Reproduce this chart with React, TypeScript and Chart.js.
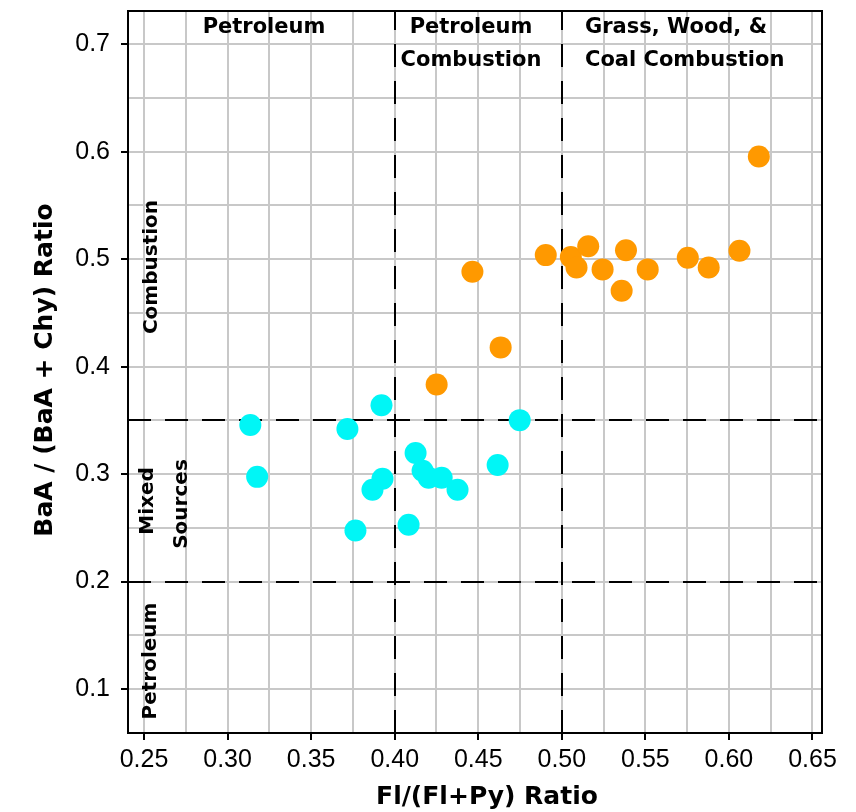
import React, { useEffect, useRef } from 'react';
import { Chart, registerables } from 'chart.js';

Chart.register(...registerables);

// Data (Fl/(Fl+Py) ratio, BaA/(BaA+Chy) ratio)
const cyanX = [0.3136, 0.3177, 0.3717, 0.3921, 0.3765, 0.3867, 0.3927, 0.4083, 0.4125, 0.4167, 0.4203, 0.4281, 0.4376, 0.4616, 0.4748];
const cyanY = [0.3456, 0.2974, 0.3419, 0.3641, 0.2474, 0.2854, 0.2956, 0.2529, 0.3196, 0.3030, 0.2965, 0.2965, 0.2854, 0.3085, 0.3502];
const orangeX = [0.4251, 0.4634, 0.4465, 0.4904, 0.5054, 0.5088, 0.5158, 0.5244, 0.5384, 0.5358, 0.5514, 0.5754, 0.5879, 0.6063, 0.6179];
const orangeY = [0.3833, 0.4179, 0.4883, 0.5038, 0.5020, 0.4923, 0.5120, 0.4905, 0.5084, 0.4707, 0.4905, 0.5013, 0.4923, 0.5078, 0.5955];

// Axes
const xMin = 0.2404;
const xMax = 0.6557;
const yMin = 0.059;
const yMax = 0.731;
const xGridValues = [0.25, 0.275, 0.3, 0.325, 0.35, 0.375, 0.4, 0.425, 0.45, 0.475, 0.5, 0.525, 0.55, 0.575, 0.6, 0.625, 0.65];
const xTickValues = [0.25, 0.3, 0.35, 0.4, 0.45, 0.5, 0.55, 0.6, 0.65];
const xTickLabels = ['0.25', '0.30', '0.35', '0.40', '0.45', '0.50', '0.55', '0.60', '0.65'];
const yGridValues = [0.1, 0.15, 0.2, 0.25, 0.3, 0.35, 0.4, 0.45, 0.5, 0.55, 0.6, 0.65, 0.7];
const yTickValues = [0.1, 0.2, 0.3, 0.4, 0.5, 0.6, 0.7];
const yTickLabels = ['0.1', '0.2', '0.3', '0.4', '0.5', '0.6', '0.7'];

// Threshold lines
const xThresholds = [0.4, 0.5];
const yThresholds = [0.2, 0.35];

const xTitle = 'Fl/(Fl+Py) Ratio';
const yTitle = 'BaA / (BaA + Chy) Ratio';

const FONT = 'DejaVu Sans';
const TICK_FONT = 'Liberation Sans';

function labelFor(v: number, values: number[], labels: string[]): string | null {
  for (let i = 0; i < values.length; i++) {
    if (Math.abs(values[i] - v) < 1e-6) return labels[i];
  }
  return null;
}

const overlayPlugin = {
  id: 'overlay',
  beforeDatasetsDraw(chart: any) {
    const { ctx, chartArea, scales } = chart;
    const { left, right, top, bottom } = chartArea;
    ctx.save();
    ctx.strokeStyle = '#000';
    ctx.lineWidth = 2;
    ctx.setLineDash([23, 14]);
    for (const v of yThresholds) {
      const y = Math.round(scales.y.getPixelForValue(v));
      ctx.beginPath();
      ctx.moveTo(left, y);
      ctx.lineTo(right, y);
      ctx.stroke();
    }
    for (const v of xThresholds) {
      const x = Math.round(scales.x.getPixelForValue(v));
      ctx.beginPath();
      ctx.moveTo(x, bottom);
      ctx.lineTo(x, top);
      ctx.stroke();
    }
    ctx.setLineDash([]);
    // top & right frame
    ctx.beginPath();
    ctx.moveTo(left - 1, top);
    ctx.lineTo(right, top);
    ctx.lineTo(right, bottom + 1);
    ctx.stroke();
    ctx.restore();
  },
  afterDraw(chart: any) {
    const { ctx } = chart;
    ctx.save();
    ctx.fillStyle = '#000';
    // region labels
    ctx.font = `bold 21px "${FONT}"`;
    ctx.textBaseline = 'alphabetic';
    ctx.textAlign = 'center';
    ctx.fillText('Petroleum', 264, 33);
    ctx.fillText('Petroleum', 471, 33);
    ctx.fillText('Combustion', 471, 66);
    ctx.textAlign = 'left';
    ctx.fillText('Grass, Wood, &', 585, 33);
    ctx.fillText('Coal Combustion', 585, 66);

    const vText = (t: string, x: number, y: number) => {
      ctx.save();
      ctx.translate(x, y);
      ctx.rotate(-Math.PI / 2);
      ctx.textAlign = 'center';
      ctx.textBaseline = 'alphabetic';
      ctx.fillText(t, 0, 0);
      ctx.restore();
    };
    ctx.font = `bold 20px "${FONT}"`;
    vText('Combustion', 157, 267);
    vText('Mixed', 153, 501);
    vText('Sources', 187, 504);
    vText('Petroleum', 156, 661);

    // axis titles
    ctx.font = `bold 25px "${FONT}"`;
    ctx.textAlign = 'center';
    ctx.textBaseline = 'alphabetic';
    ctx.fillText(xTitle, 487, 804);
    ctx.save();
    ctx.translate(52, 370);
    ctx.rotate(-Math.PI / 2);
    ctx.fillText(yTitle, 0, 0);
    ctx.restore();
    ctx.restore();
  },
};

export default function App() {
  const canvasRef = useRef<HTMLCanvasElement | null>(null);

  useEffect(() => {
    if (!canvasRef.current) return;
    const chart = new Chart(canvasRef.current, {
      type: 'scatter',
      data: {
        datasets: [
          {
            label: 'Mixed',
            data: cyanX.map((x, i) => ({ x, y: cyanY[i] })),
            backgroundColor: '#00f6f6',
            borderWidth: 0,
            pointRadius: 11,
            pointHoverRadius: 11,
          },
          {
            label: 'Combustion',
            data: orangeX.map((x, i) => ({ x, y: orangeY[i] })),
            backgroundColor: '#ff9900',
            borderWidth: 0,
            pointRadius: 11,
            pointHoverRadius: 11,
          },
        ],
      },
      options: {
        responsive: false,
        animation: false,
        layout: { padding: { left: 0, top: 8, right: 34, bottom: 0 } },
        plugins: {
          legend: { display: false },
          tooltip: { enabled: false },
        },
        scales: {
          x: {
            type: 'linear',
            min: xMin,
            max: xMax,
            afterBuildTicks: (scale: any) => {
              scale.ticks = xGridValues.map((v) => ({ value: v }));
            },
            afterFit: (scale: any) => {
              scale.height = 79;
              scale.paddingLeft = 0;
              scale.paddingRight = 0;
            },
            ticks: {
              autoSkip: false,
              maxRotation: 0,
              minRotation: 0,
              padding: 5,
              color: '#000',
              font: { family: TICK_FONT, size: 25 },
              callback: (v: any) => labelFor(Number(v), xTickValues, xTickLabels) ?? '',
            },
            grid: {
              color: '#c8c8c8',
              lineWidth: 2,
              tickLength: 7,
              tickWidth: 2,
              tickColor: (c: any) => (labelFor(c.tick?.value, xTickValues, xTickLabels) ? '#000' : 'rgba(0,0,0,0)'),
            },
            border: { color: '#000', width: 2 },
          },
          y: {
            type: 'linear',
            min: yMin,
            max: yMax,
            afterBuildTicks: (scale: any) => {
              scale.ticks = yGridValues.map((v) => ({ value: v }));
            },
            afterFit: (scale: any) => {
              scale.width = 128;
              scale.paddingTop = 0;
              scale.paddingBottom = 0;
            },
            ticks: {
              autoSkip: false,
              padding: 11,
              color: '#000',
              font: { family: TICK_FONT, size: 25 },
              callback: (v: any) => labelFor(Number(v), yTickValues, yTickLabels) ?? '',
            },
            grid: {
              color: '#c8c8c8',
              lineWidth: 2,
              tickLength: 7,
              tickWidth: 2,
              tickColor: (c: any) => (labelFor(c.tick?.value, yTickValues, yTickLabels) ? '#000' : 'rgba(0,0,0,0)'),
            },
            border: { color: '#000', width: 2 },
          },
        },
      },
      plugins: [overlayPlugin],
    });
    return () => chart.destroy();
  }, []);

  return (
    <div style={{ position: 'absolute', left: 0, top: 0, width: 856, height: 812, background: '#fff' }}>
      <canvas ref={canvasRef} width={856} height={812} style={{ display: 'block' }} />
    </div>
  );
}
